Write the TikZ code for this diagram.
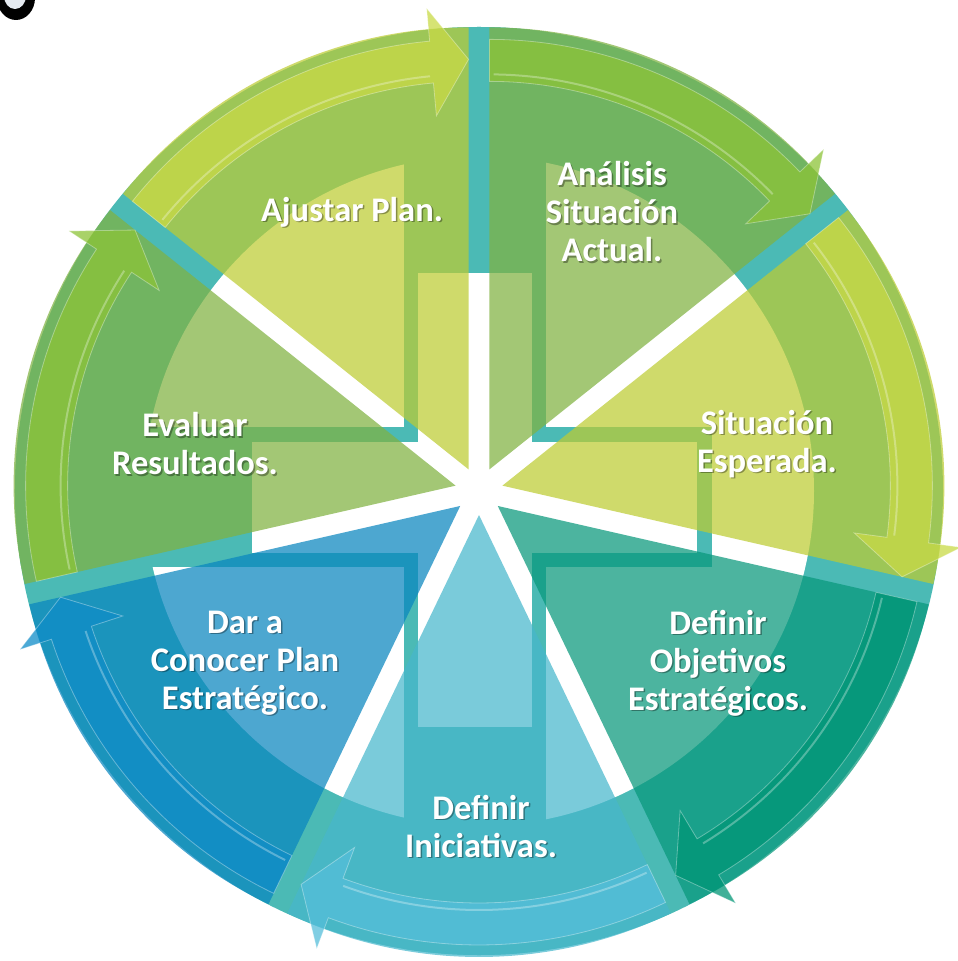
\documentclass[tikz,border=0pt]{standalone}
\usepackage{fontspec}
\setmainfont{Carlito}
\usepackage{tikz}
\definecolor{ringteal}{RGB}{75,186,181}
\definecolor{markgray}{RGB}{228,234,240}
\definecolor{wgreen}{RGB}{128,178,65}
\definecolor{wlime}{RGB}{189,204,51}
\definecolor{wsea}{RGB}{8,152,123}
\definecolor{wsky}{RGB}{71,183,204}
\definecolor{wblue}{RGB}{9,134,191}
\definecolor{agreen}{RGB}{140,195,55}
\definecolor{alime}{RGB}{200,218,70}
\definecolor{asea}{RGB}{0,150,118}
\definecolor{asky}{RGB}{85,190,218}
\definecolor{ablue}{RGB}{15,140,200}
\newcommand{\cyclelabel}[3]{%
    \node[shadowlabel, xshift=1.5pt, yshift=-1.5pt] (#1-s) at (#2) {#3};
    \node[steplabel] (#1) at (#2) {#3};}

\begin{document}
\begin{tikzpicture}[x=1pt, y=1pt,
    steplabel/.style={font=\fontsize{34.5}{38}\selectfont\bfseries, text=white, align=center, inner sep=0pt},
    shadowlabel/.style={steplabel, text=black, text opacity=.35},
    wedgefill/.style={fill opacity=.72},
    arrowfill/.style={fill opacity=.75, draw=white, draw opacity=.35, line width=.8pt},
    arrowshine/.style={draw=white, draw opacity=.3, line width=2pt}
]
    \useasboundingbox (-479,-470) rectangle (479,491);
    \clip (-479,-470) rectangle (479,491);

    % Background ring and cross
    \fill[ringteal] (0,0) circle (464);
    \fill[white] (0,0) circle (335);
    \begin{scope}
        \clip (0,0) circle (464);
        \fill[ringteal] (-75,-480) rectangle (67,480);
        \fill[ringteal] (-480,-76) rectangle (233,64);
    \end{scope}
    \fill[white] (-61,-236) rectangle (53,218);
    \fill[white] (-227,-62) rectangle (218,49);

    % Mark in the corner
    \fill[black] (-463,493) ellipse (19 and 22);
    \fill[markgray] (-464,495) ellipse (11 and 13);

    % Wedges with their arrows
    \foreach \a/\wc/\ac [evaluate=\a as \b using \a-51.4286,
                         evaluate=\a as \m using \a-25.7143] in
        {90/wgreen/agreen, 38.5714/wlime/alime, -12.8571/wsea/asea, -64.2857/wsky/asky,
         -115.7143/wblue/ablue, 192.8571/wgreen/agreen, 141.4286/wlime/alime}
    {
        \begin{scope}[shift={(\m:24)}]
            \fill[\wc, wedgefill] (0,0) -- (\a:442) arc[start angle=\a, end angle=\b, radius=442] -- cycle;
            \filldraw[\ac, arrowfill] (\a:388) arc[start angle=\a, end angle=\b+5.2, radius=388]
                -- (\b+5.2:355) -- (\b:410) -- (\b+5.2:463) -- (\b+5.2:430)
                arc[start angle=\b+5.2, end angle=\a, radius=430] -- cycle;
            \draw[arrowshine] (\a-0.6:395) arc[start angle=\a-0.6, end angle=\b+5.6, radius=395];
        \end{scope}
    }

    % Labels
    \cyclelabel{analisis}{133,279}{Análisis\\Situación\\Actual.}
    \cyclelabel{esperada}{288,47}{Situación\\Esperada.}
    \cyclelabel{objetivos}{239,-172}{Definir\\Objetivos\\Estratégicos.}
    \cyclelabel{iniciativas}{2,-335}{Definir\\Iniciativas.}
    \cyclelabel{conocer}{-234,-172}{Dar a\\Conocer Plan\\Estratégico.}
    \cyclelabel{evaluar}{-284,47}{Evaluar\\Resultados.}
    \cyclelabel{ajustar}{-127,279}{Ajustar Plan.}
\end{tikzpicture}
\end{document}
